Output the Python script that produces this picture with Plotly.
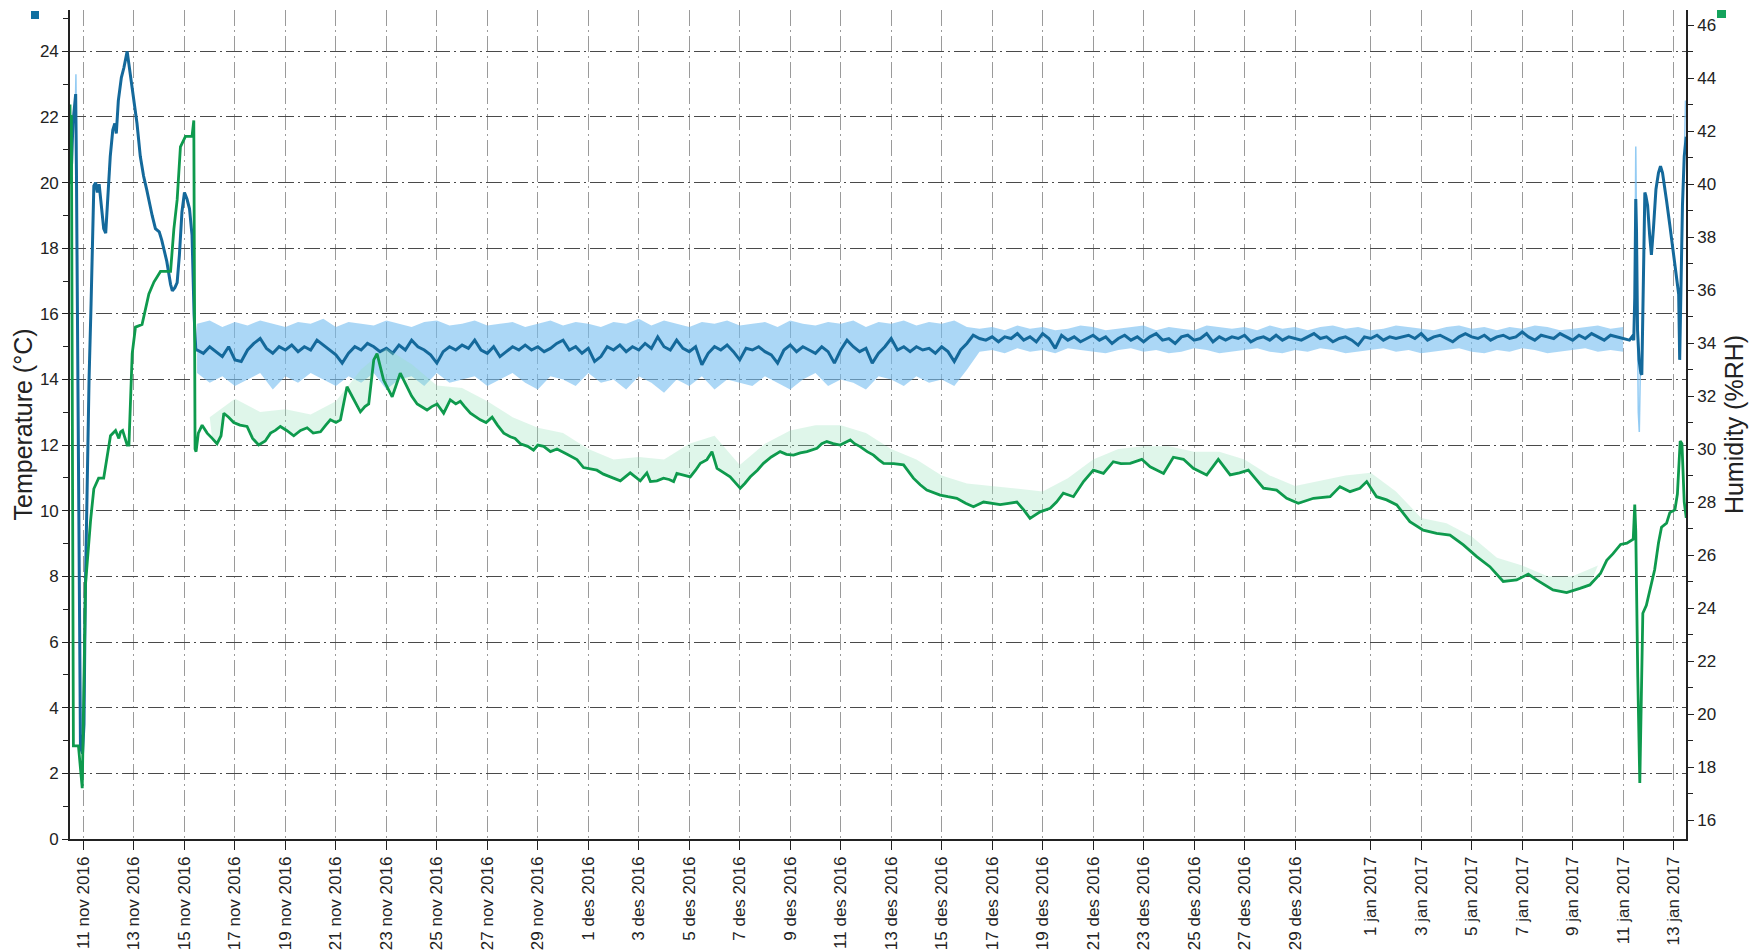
import pandas as pd
import plotly.graph_objects as go

T0 = pd.Timestamp("2016-11-11 00:00")  # day 0 of the offsets below

# ---------------- Temperature (smoothed), °C ----------------
temp_start_days = [-0.535, -0.47, -0.42, -0.36, -0.31, -0.28, -0.20, -0.12, -0.04, 0.02, 0.07, 0.14,
                   0.22, 0.30, 0.36, 0.41, 0.48, 0.55, 0.62, 0.70, 0.80, 0.88, 0.96, 1.06, 1.16,
                   1.24, 1.30, 1.38, 1.50, 1.60, 1.73, 1.85, 1.98, 2.12, 2.25, 2.38, 2.50, 2.60,
                   2.72, 2.85, 3.00, 3.10, 3.30, 3.45, 3.52, 3.62, 3.71, 3.80, 3.90, 4.00, 4.10,
                   4.20, 4.30, 4.38, 4.45]
temp_start_vals = [20.0, 20.6, 21.8, 22.2, 22.7, 20.4, 11.0, 2.8, 2.6, 3.5, 7.4, 11.0,
                   14.0, 16.3, 18.0, 19.9, 20.0, 19.7, 19.95, 19.4, 18.6, 18.46, 19.6, 20.8, 21.6,
                   21.8, 21.5, 22.5, 23.2, 23.5, 24.0, 23.3, 22.7, 21.8, 20.8, 20.2, 19.8, 19.4,
                   19.0, 18.6, 18.5, 18.25, 17.6, 16.9, 16.7, 16.8, 16.95, 17.8, 19.1, 19.7, 19.5,
                   19.2, 18.4, 16.0, 14.9]

temp_steady_start = "2016-11-15 12:00"   # 6-hourly readings
temp_steady = [
    14.9, 14.8, 15.0, 14.85, 14.7, 15.0, 14.6, 14.55, 14.9, 15.1, 15.25, 14.95,
    14.8, 15.0, 14.9, 15.05, 14.85, 15.0, 14.9, 15.2, 15.05, 14.9, 14.75, 14.5,
    14.8, 15.0, 14.9, 15.1, 15.0, 14.85, 14.95, 14.8, 15.05, 14.9, 15.2, 15.0,
    14.9, 14.75, 14.5, 14.85, 15.0, 14.9, 15.05, 14.95, 15.2, 14.9, 14.8, 15.0,
    14.7, 14.85, 15.0, 14.9, 15.05, 14.9, 15.0, 14.85, 14.95, 15.1, 15.2, 14.9,
    15.0, 14.8, 14.95, 14.55, 14.7, 15.0, 14.9, 15.05, 14.85, 15.0, 14.9, 15.1,
    14.95, 15.3, 15.0, 14.9, 15.2, 14.95, 14.85, 15.0, 14.45, 14.8, 15.0, 14.9,
    15.05, 14.85, 14.6, 14.95, 14.9, 15.0, 14.85, 14.75, 14.5, 14.9, 15.05, 14.85,
    15.0, 14.9, 14.8, 15.0, 14.85, 14.5, 14.9, 15.2, 15.0, 14.85, 14.95, 14.5,
    14.8, 15.0, 15.25, 14.9, 15.0, 14.85, 15.0, 14.9, 14.95, 14.8, 15.0, 14.85,
    14.55, 14.9, 15.1,
    15.35, 15.25, 15.2, 15.3, 15.15, 15.3, 15.25, 15.4, 15.2, 15.3, 15.15, 15.4,
    15.25, 14.95, 15.35, 15.2, 15.3, 15.15, 15.25, 15.35, 15.2, 15.3, 15.1, 15.25,
    15.35, 15.2, 15.3, 15.15, 15.3, 15.4, 15.2, 15.25, 15.1, 15.3, 15.35, 15.2,
    15.25, 15.4, 15.15, 15.3, 15.2, 15.3, 15.25, 15.35, 15.15, 15.25, 15.3, 15.2,
    15.35, 15.2, 15.3, 15.25, 15.2, 15.3, 15.4, 15.25, 15.3, 15.15, 15.25, 15.3,
    15.2, 15.05, 15.3, 15.25, 15.35, 15.2, 15.3, 15.25, 15.3, 15.35, 15.25, 15.4,
    15.2, 15.3, 15.35, 15.25, 15.15, 15.3, 15.4, 15.3, 15.25, 15.35, 15.2, 15.3,
    15.35, 15.25, 15.3, 15.45, 15.3, 15.2, 15.35, 15.3, 15.25, 15.4, 15.3, 15.2,
    15.35, 15.25, 15.4, 15.3, 15.2, 15.35, 15.3, 15.25, 15.2]

temp_end_days = [61.35, 61.42, 61.46, 61.50, 61.53, 61.57, 61.63, 61.70, 61.74, 61.80, 61.86,
                 61.90, 61.97, 62.05, 62.12, 62.20, 62.30, 62.40, 62.48, 62.56, 62.64, 62.72,
                 62.85, 62.98, 63.10, 63.20, 63.24, 63.30, 63.35, 63.42, 63.50]
temp_end_vals = [15.3, 15.2, 16.5, 19.5, 18.5, 15.5, 14.6, 14.2, 14.15, 16.5, 19.7,
                 19.6, 19.3, 18.4, 17.8, 18.6, 19.8, 20.3, 20.5, 20.3, 19.8, 19.45,
                 18.7, 17.95, 17.2, 16.6, 14.6, 17.0, 19.3, 20.8, 21.4]

# Raw temperature spread (12-hourly envelope of the raw readings), °C
temp_raw_start = "2016-11-15 12:00"
temp_raw_upper = [
    15.7, 15.8, 15.6, 15.75, 15.65, 15.8, 15.7, 15.6, 15.75, 15.7, 15.85,
    15.6, 15.75, 15.7, 15.65, 15.8, 15.7, 15.6, 15.75, 15.8, 15.65, 15.7,
    15.8, 15.65, 15.7, 15.75, 15.6, 15.7, 15.8, 15.65, 15.75, 15.7, 15.6,
    15.75, 15.7, 15.85, 15.65, 15.8, 15.7, 15.6, 15.75, 15.7, 15.8, 15.65,
    15.7, 15.75, 15.6, 15.8, 15.7, 15.65, 15.75, 15.7, 15.8, 15.6, 15.75,
    15.7, 15.8, 15.65, 15.75, 15.7, 15.8, 15.6,
    15.55, 15.6, 15.5, 15.65, 15.55, 15.6, 15.5, 15.55, 15.65, 15.6, 15.5, 15.55, 15.6,
    15.65, 15.5, 15.6, 15.55, 15.5, 15.65, 15.6, 15.55, 15.6, 15.5, 15.65, 15.55, 15.6,
    15.5, 15.6, 15.65, 15.55, 15.6, 15.5, 15.55, 15.65, 15.6, 15.55, 15.5, 15.6, 15.65,
    15.55, 15.6, 15.5, 15.6, 15.55, 15.65, 15.6, 15.5, 15.55, 15.6, 15.65, 15.55, 15.6]
temp_raw_lower = [
    14.2, 13.9, 14.1, 13.8, 14.0, 14.2, 13.7, 14.1, 13.9, 14.2, 14.0,
    13.8, 14.1, 13.9, 14.2, 13.7, 14.0, 14.1, 13.8, 14.2, 13.9, 14.0,
    14.1, 13.8, 14.0, 14.2, 13.9, 13.7, 14.1, 14.0, 13.8, 14.2, 13.9,
    14.0, 13.7, 14.1, 13.9, 13.6, 14.0, 13.8, 14.1, 13.7, 14.0, 13.9,
    13.8, 14.1, 13.9, 13.7, 14.0, 14.2, 13.8, 14.0, 13.9, 13.7, 14.1,
    14.0, 13.8, 14.1, 13.9, 14.0, 13.8, 14.3,
    14.85, 14.9, 14.8, 14.95, 14.85, 14.9, 14.8, 14.95, 14.9, 14.85, 14.8, 14.9, 14.95,
    14.85, 14.9, 14.8, 14.85, 14.95, 14.9, 14.8, 14.85, 14.9, 14.95, 14.85, 14.8, 14.9,
    14.85, 14.95, 14.9, 14.8, 14.85, 14.9, 14.95, 14.85, 14.9, 14.8, 14.85, 14.9, 14.95,
    14.85, 14.8, 14.9, 14.85, 14.95, 14.9, 14.8, 14.85, 14.9, 14.95, 14.85, 14.9, 14.85]

# Raw temperature spikes during the transients (None = gap)
temp_spike_days = [-0.33, -0.30, -0.27, None, 61.46, 61.50, 61.55, 61.60, 61.64, 61.68, None, 63.40, 63.47, 63.50]
temp_spike_vals = [22.0, 23.3, 21.0, None, 16.0, 21.1, 17.0, 13.0, 12.4, 14.2, None, 20.0, 22.5, 22.0]

# ---------------- Humidity (smoothed), %RH ----------------
hum_days = [-0.535, -0.51, -0.48, -0.45, -0.40, -0.20, -0.12, -0.05, 0.08, 0.18, 0.28, 0.41, 0.60,
            0.80, 0.94, 1.07, 1.27, 1.40, 1.47, 1.55, 1.73, 1.80, 1.93, 2.06, 2.32, 2.46, 2.59,
            2.79, 3.05, 3.45, 3.58, 3.71, 3.84, 4.04, 4.30, 4.37, 4.42,
            4.46, 4.55, 4.70, 4.90, 5.10, 5.29, 5.45, 5.56, 5.75, 5.95, 6.20, 6.48, 6.70, 6.94,
            7.20, 7.41, 7.60, 7.80, 8.05, 8.33, 8.60, 8.86, 9.10, 9.39, 9.60, 9.78, 10.00, 10.18,
            10.44, 10.71, 10.97, 11.15, 11.30, 11.50, 11.63, 11.89, 12.05, 12.23, 12.55, 12.82,
            13.00, 13.22, 13.61, 13.80, 14.01, 14.27, 14.53, 14.75, 14.93, 15.10, 15.33, 15.72,
            15.95, 16.19, 16.40, 16.65, 16.91, 17.10, 17.31, 17.60, 17.83, 18.00, 18.23, 18.50,
            18.76, 19.16, 19.55, 19.81, 20.10, 20.34, 20.60, 20.87, 21.27, 21.66, 22.06, 22.32,
            22.46, 22.72, 22.98, 23.20, 23.38, 23.51, 23.80, 24.04, 24.25, 24.44, 24.70, 24.90,
            25.10, 25.35, 25.62, 25.85, 26.02, 26.20, 26.42, 26.70, 26.94, 27.25, 27.60, 27.85,
            28.13, 28.40, 28.66, 29.06, 29.25, 29.45, 29.70, 29.98, 30.20, 30.38, 30.55, 30.77,
            31.05, 31.30, 31.50, 31.70, 32.10, 32.49, 32.88, 33.15, 33.41, 33.70, 33.94, 34.25,
            34.60, 34.95, 35.26, 35.66, 36.00, 36.32, 36.65, 36.98, 37.25, 37.50, 37.90, 38.30,
            38.55, 38.82, 39.22, 39.62, 40.01, 40.41, 40.80, 41.10, 41.47, 41.93, 42.26, 42.79,
            43.18, 43.58, 43.97, 44.50, 44.96, 45.43, 45.80, 46.15, 46.75, 47.27, 47.67, 48.13,
            48.73, 49.39, 49.78, 50.18, 50.57, 50.84, 51.23, 51.63, 52.03, 52.55, 53.08, 53.61,
            54.14, 54.67, 55.20, 55.72, 56.25, 56.78, 57.24, 57.57, 58.22, 58.76, 59.29, 59.68,
            60.10, 60.35, 60.60, 60.90, 61.15, 61.40, 61.46, 61.50, 61.58, 61.66, 61.72, 61.78,
            61.92, 62.05, 62.25, 62.40, 62.52, 62.72, 62.85, 63.05, 63.15, 63.26, 63.33, 63.42, 63.50]
hum_vals = [43.0, 40.0, 42.6, 36.0, 18.8, 18.8, 18.0, 17.2, 24.9, 26.3, 27.3, 28.5, 28.9,
            28.9, 29.8, 30.5, 30.7, 30.4, 30.65, 30.7, 30.15, 30.15, 33.6, 34.6, 34.7, 35.35, 35.85,
            36.3, 36.7, 36.7, 38.3, 39.4, 41.4, 41.8, 41.8, 42.4, 30.0,
            29.9, 30.6, 30.9, 30.6, 30.4, 30.2, 30.5, 31.35, 31.2, 31.0, 30.9, 30.85, 30.4, 30.15,
            30.3, 30.6, 30.7, 30.85, 30.7, 30.5, 30.7, 30.8, 30.6, 30.65, 30.9, 31.1, 31.0, 31.1,
            32.35, 31.85, 31.4, 31.6, 31.7, 33.36, 33.6, 32.6, 32.3, 31.97, 32.86, 32.35,
            32.0, 31.7, 31.47, 31.6, 31.7, 31.35, 31.85, 31.7, 31.8, 31.6, 31.35, 31.1,
            31.0, 31.2, 30.9, 30.6, 30.46, 30.4, 30.2, 30.1, 29.96, 30.15, 30.1, 29.9,
            30.0, 29.8, 29.6, 29.3, 29.25, 29.2, 29.05, 28.95, 28.8, 29.1, 28.8, 29.1,
            28.77, 28.8, 28.9, 28.85, 28.77, 29.08, 29.0, 28.95, 29.2, 29.46, 29.6, 29.9,
            29.27, 29.1, 28.95, 28.7, 28.52, 28.7, 28.95, 29.2, 29.46, 29.7, 29.9, 29.8,
            29.77, 29.85, 29.9, 30.03, 30.2, 30.28, 30.2, 30.15, 30.25, 30.34, 30.2, 30.09,
            29.9, 29.77, 29.6, 29.46, 29.45, 29.4, 28.9, 28.65, 28.45, 28.35, 28.26, 28.2,
            28.14, 27.95, 27.82, 28.0, 27.95, 27.9, 27.95, 28.0, 27.7, 27.38, 27.63, 27.76,
            28.0, 28.33, 28.2, 28.77, 29.2, 29.08, 29.52, 29.45, 29.46, 29.61, 29.33, 29.08,
            29.69, 29.61, 29.27, 29.02, 29.61, 29.02, 29.1, 29.2, 28.52, 28.45, 28.14, 27.95,
            28.14, 28.2, 28.58, 28.39, 28.52, 28.77, 28.2, 28.08, 27.89, 27.26, 26.94, 26.82,
            26.75, 26.38, 25.94, 25.56, 25.0, 25.06, 25.28, 25.06, 24.68, 24.58, 24.74, 24.87,
            25.3, 25.8, 26.05, 26.4, 26.45, 26.6, 27.9, 26.9, 21.4, 17.4, 20.6, 23.8,
            24.1, 24.6, 25.45, 26.45, 27.05, 27.2, 27.6, 27.7, 28.3, 30.3, 30.2, 28.0, 27.4]

# Upper edge of the raw humidity readings, daily from 16 nov 2016, %RH
hum_raw_start = "2016-11-16"
hum_raw_upper = [31.2, 31.9, 31.4, 31.5, 31.3, 31.8, 33.0, 33.8, 33.2, 32.4, 32.3, 31.8, 31.2, 30.8,
                 30.6, 30.0, 29.6, 29.7, 29.6, 30.2, 30.5, 29.4, 30.2, 30.7, 30.9, 30.9, 30.6, 30.0,
                 29.6, 29.0, 28.7, 28.6, 28.5, 28.4, 28.9, 29.6, 30.0, 30.1, 30.1, 29.9, 29.9, 29.6,
                 29.0, 28.6, 28.8, 29.0, 29.1, 28.4, 27.4, 27.2, 26.7, 25.9, 25.6, 25.2, 25.2, 25.6]

# ---------------- Axis ticks ----------------
tick_dates = ["2016-11-11", "2016-11-13", "2016-11-15", "2016-11-17", "2016-11-19", "2016-11-21",
              "2016-11-23", "2016-11-25", "2016-11-27", "2016-11-29", "2016-12-01", "2016-12-03",
              "2016-12-05", "2016-12-07", "2016-12-09", "2016-12-11", "2016-12-13", "2016-12-15",
              "2016-12-17", "2016-12-19", "2016-12-21", "2016-12-23", "2016-12-25", "2016-12-27",
              "2016-12-29", "2017-01-01", "2017-01-03", "2017-01-05", "2017-01-07", "2017-01-09",
              "2017-01-11", "2017-01-13"]
tick_text = ["11 nov 2016", "13 nov 2016", "15 nov 2016", "17 nov 2016", "19 nov 2016", "21 nov 2016",
             "23 nov 2016", "25 nov 2016", "27 nov 2016", "29 nov 2016", "1 des 2016", "3 des 2016",
             "5 des 2016", "7 des 2016", "9 des 2016", "11 des 2016", "13 des 2016", "15 des 2016",
             "17 des 2016", "19 des 2016", "21 des 2016", "23 des 2016", "25 des 2016", "27 des 2016",
             "29 des 2016", "1 jan 2017", "3 jan 2017", "5 jan 2017", "7 jan 2017", "9 jan 2017",
             "11 jan 2017", "13 jan 2017"]
x_range = ["2016-11-10 11:10", "2017-01-13 11:46"]
temp_range = [0, 25.26]
hum_range = [15.283, 46.566]


def at(days):
    return [None if d is None else T0 + pd.Timedelta(days=d) for d in days]


# assemble series
temp_x = at(temp_start_days) + list(pd.date_range(temp_steady_start, periods=len(temp_steady), freq="6h")) + at(temp_end_days)
temp_y = temp_start_vals + temp_steady + temp_end_vals
raw_x = list(pd.date_range(temp_raw_start, periods=len(temp_raw_upper), freq="12h"))
hum_x = at(hum_days)
hraw_x = list(pd.date_range(hum_raw_start, periods=len(hum_raw_upper), freq="D"))
hum_df = pd.DataFrame({"x": hum_x, "y": hum_vals})
hum_sub = hum_df[(hum_df["x"] >= hraw_x[0]) & (hum_df["x"] <= hraw_x[-1])]

C_BLUE = "#14699b"
C_LBLUE = "rgba(120,190,240,0.62)"
C_GREEN = "#0e9a4d"
C_LGREEN = "rgba(150,225,185,0.30)"
C_AX = "#222222"

fig = go.Figure()
# raw temperature spread
fig.add_trace(go.Scatter(x=raw_x, y=temp_raw_lower, mode="lines", line=dict(width=0, color=C_LBLUE),
                         hoverinfo="skip", showlegend=False))
fig.add_trace(go.Scatter(x=raw_x, y=temp_raw_upper, mode="lines", line=dict(width=0, color=C_LBLUE),
                         fill="tonexty", fillcolor=C_LBLUE, hoverinfo="skip", showlegend=False))
fig.add_trace(go.Scatter(x=at(temp_spike_days), y=temp_spike_vals, mode="lines",
                         line=dict(width=1.5, color="rgba(120,190,240,0.8)"), connectgaps=False,
                         hoverinfo="skip", showlegend=False))
# smoothed temperature
fig.add_trace(go.Scatter(x=temp_x, y=temp_y, mode="lines", name="Temperature",
                         line=dict(width=3, color=C_BLUE), showlegend=False))
# raw humidity spread
fig.add_trace(go.Scatter(x=hum_sub["x"], y=hum_sub["y"], mode="lines", yaxis="y2",
                         line=dict(width=0, color=C_LGREEN), hoverinfo="skip", showlegend=False))
fig.add_trace(go.Scatter(x=hraw_x, y=hum_raw_upper, mode="lines", yaxis="y2",
                         line=dict(width=0, color=C_LGREEN), fill="tonexty", fillcolor=C_LGREEN,
                         hoverinfo="skip", showlegend=False))
# smoothed humidity
fig.add_trace(go.Scatter(x=hum_x, y=hum_vals, mode="lines", name="Humidity", yaxis="y2",
                         line=dict(width=2.8, color=C_GREEN), showlegend=False))

grid_dash = "16px,4px,2px,4px"
fig.update_layout(
    width=1758, height=951,
    margin=dict(l=70, r=72, t=10, b=112),
    paper_bgcolor="white", plot_bgcolor="white",
    showlegend=False,
    font=dict(family="Liberation Sans, Arial, sans-serif", size=17, color=C_AX),
    xaxis=dict(type="date", range=x_range, tickmode="array", tickvals=tick_dates, ticktext=tick_text,
               tickangle=-90, ticks="outside", ticklen=9, tickcolor=C_AX, tickwidth=1.2,
               automargin=False,
               showline=True, linecolor=C_AX, linewidth=1.6, zeroline=False,
               showgrid=True, gridcolor="#9a9a9a", gridwidth=1, griddash=grid_dash,
               tickfont=dict(size=17, color=C_AX)),
    yaxis=dict(range=temp_range, tick0=0, dtick=2, ticks="outside", ticklen=6, tickcolor=C_AX,
               showline=True, linecolor=C_AX, linewidth=1.6, zeroline=False, automargin=False,
               showgrid=True, gridcolor="#4a4a4a", gridwidth=1, griddash=grid_dash,
               minor=dict(ticks="outside", ticklen=5, tick0=0, dtick=1, tickcolor=C_AX, showgrid=False),
               tickfont=dict(size=17, color=C_AX),
               title=dict(text="Temperature (°C)", font=dict(size=25, color=C_AX), standoff=0)),
    yaxis2=dict(range=hum_range, overlaying="y", side="right", tick0=16, dtick=2, ticks="outside",
                ticklen=6, tickcolor=C_AX, showline=True, linecolor=C_AX, linewidth=1.6,
                zeroline=False, showgrid=False, automargin=False,
                minor=dict(ticks="outside", ticklen=5, tick0=16, dtick=1, tickcolor=C_AX, showgrid=False),
                tickfont=dict(size=17, color=C_AX),
                title=dict(text="Humidity (%RH)", font=dict(size=25, color=C_AX), standoff=10)),
    shapes=[
        dict(type="rect", xref="paper", yref="paper", xsizemode="pixel", ysizemode="pixel",
             xanchor=0, yanchor=1, x0=-39, x1=-31, y0=-1, y1=-9,
             fillcolor="#0f6fa0", line=dict(width=0)),
        dict(type="rect", xref="paper", yref="paper", xsizemode="pixel", ysizemode="pixel",
             xanchor=1, yanchor=1, x0=31, x1=40, y0=0, y1=-8,
             fillcolor="#14a35c", line=dict(width=0)),
    ],
)

fig.write_html("out.html")
